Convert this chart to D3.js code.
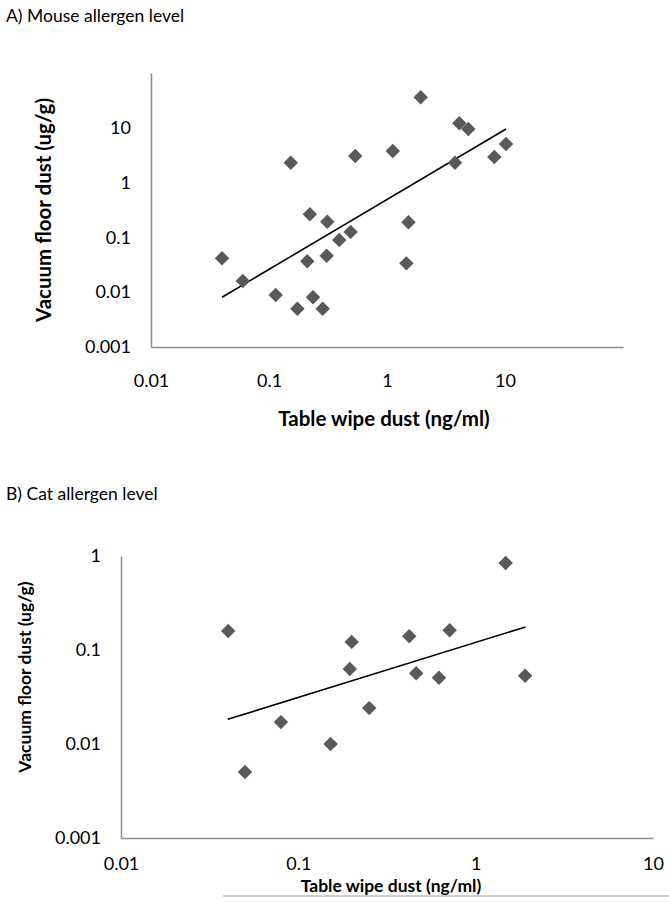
<!DOCTYPE html>
<html><head><meta charset="utf-8">
<script src="https://cdn.jsdelivr.net/npm/d3@7"></script>
<style>body{margin:0;background:#fff} svg{display:block} text{font-family:Lato,"Open Sans",sans-serif}</style>
</head><body><svg id="c" width="669" height="902"></svg>
<script>
// Panel A: mouse allergen
const mouseWipe  = [0.04,0.06,0.114,0.174,0.236,0.285,0.211,0.308,0.394,0.492,0.222,0.312,0.153,0.538,1.12,1.52,1.46,1.93,4.10,4.89,10.2,8.12,3.77];
const mouseFloor = [0.0416,0.016,0.0089,0.005,0.0081,0.005,0.0366,0.0463,0.0898,0.126,0.264,0.193,2.31,3.06,3.77,0.189,0.0336,36.0,12.1,9.5,5.06,2.93,2.31];
const mouseTrendX = [0.04, 10.2];
const mouseTrendY = [0.0081, 9.5];
// Panel B: cat allergen
const catWipe  = [0.0402,0.05,0.0798,0.152,0.195,0.200,0.251,0.422,0.462,0.621,0.713,1.476,1.90];
const catFloor = [0.159,0.00504,0.0171,0.0100,0.0628,0.122,0.0241,0.140,0.0565,0.0507,0.162,0.844,0.0533];
const catTrendX = [0.04, 1.91];
const catTrendY = [0.0183, 0.176];
// ticks and labels
const mouseXTicks = [0.01,0.1,1,10];
const mouseYTicks = [0.001,0.01,0.1,1,10];
const catXTicks = [0.01,0.1,1,10];
const catYTicks = [0.001,0.01,0.1,1];
const panelTitles = ["A) Mouse allergen level","B) Cat allergen level"];
const xTitle = "Table wipe dust (ng/ml)";
const yTitle = "Vacuum floor dust (ug/g)";

const svg = d3.select("#c");
const fmt = d => String(d);

function panel(o){
  const x = d3.scaleLog().domain(o.xDomain).range([o.left,o.right]);
  const y = d3.scaleLog().domain(o.yDomain).range([o.bottom,o.top]);
  const g = svg.append("g");
  g.append("text").attr("x",6).attr("y",o.titleY).attr("font-size",17.5).attr("fill","#000").text(o.title);
  const ax = g.append("g").attr("transform",`translate(0,${o.bottom})`)
    .call(d3.axisBottom(x).tickValues(o.xTicks).tickFormat(fmt).tickSize(0).tickPadding(o.xPad));
  ax.select(".domain").attr("stroke","#8a8a8a").attr("stroke-width",1.5);
  ax.selectAll("text").attr("font-size",18).attr("fill","#000").attr("font-family","Lato,sans-serif");
  const ay = g.append("g").attr("transform",`translate(${o.left},0)`)
    .call(d3.axisLeft(y).tickValues(o.yTicks).tickFormat(fmt).tickSize(0).tickPadding(20));
  ay.select(".domain").attr("stroke","#8a8a8a").attr("stroke-width",1.5);
  ay.selectAll("text").attr("font-size",18).attr("fill","#000").attr("font-family","Lato,sans-serif");
  g.append("text").attr("x",o.xtX).attr("y",o.xtY).attr("text-anchor","middle")
    .attr("font-weight","bold").attr("font-size",o.tfs).text(xTitle);
  g.append("text").attr("transform",`translate(${o.ytX},${o.ytY}) rotate(-90)`).attr("text-anchor","middle")
    .attr("font-weight","bold").attr("font-size",o.tfs).text(yTitle);
  g.append("line").attr("x1",x(o.tx[0])).attr("y1",y(o.ty[0])).attr("x2",x(o.tx[1])).attr("y2",y(o.ty[1]))
    .attr("stroke","#000").attr("stroke-width",1.6);
  const sym = d3.symbol(d3.symbolSquare, 104);
  g.selectAll("path.pt").data(o.xs.map((v,i)=>[v,o.ys[i]])).join("path").attr("class","pt")
    .attr("d",sym).attr("fill","#595959")
    .attr("transform",d=>`translate(${x(d[0])},${y(d[1])}) rotate(45)`);
}

panel({title:panelTitles[0],titleY:22,left:151,right:623,top:73,bottom:347,
  xDomain:[0.01,100],yDomain:[0.001,100],xTicks:mouseXTicks,yTicks:mouseYTicks,xPad:27,
  xtX:384,xtY:426,ytX:51,ytY:210,tfs:20.5,xs:mouseWipe,ys:mouseFloor,tx:mouseTrendX,ty:mouseTrendY});
panel({title:panelTitles[1],titleY:500,left:121,right:653,top:556,bottom:838,
  xDomain:[0.01,10],yDomain:[0.001,1],xTicks:catXTicks,yTicks:catYTicks,xPad:19,
  xtX:391,xtY:892,ytX:31,ytY:677,tfs:17.5,xs:catWipe,ys:catFloor,tx:catTrendX,ty:catTrendY});

svg.append("line").attr("x1",223).attr("x2",669).attr("y1",896).attr("y2",896).attr("stroke","#c0c0c0").attr("stroke-width",1.5);
</script></body></html>
